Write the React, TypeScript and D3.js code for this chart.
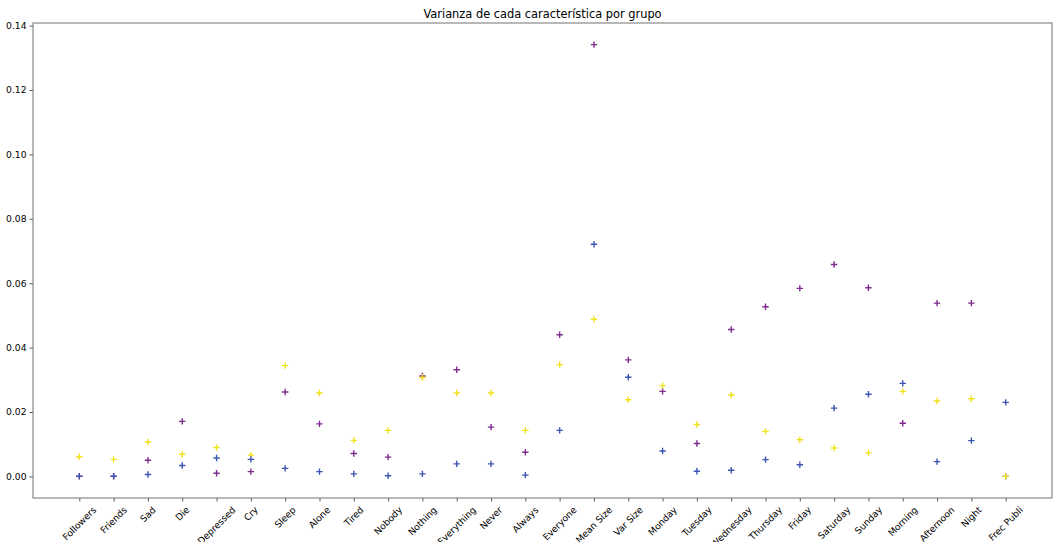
import React, { useEffect, useRef } from 'react';
import * as d3 from 'd3';

const categories = [
  'Followers', 'Friends', 'Sad', 'Die', 'Depressed', 'Cry', 'Sleep', 'Alone', 'Tired', 'Nobody',
  'Nothing', 'Everything', 'Never', 'Always', 'Everyone', 'Mean Size', 'Var Size', 'Monday', 'Tuesday',
  'Wednesday', 'Thursday', 'Friday', 'Saturday', 'Sunday', 'Morning', 'Afternoon', 'Night', 'Frec Publi',
];

// grupo morado
const purpleVals = [
  0.0000, 0.0000, 0.0050, 0.0171, 0.0010, 0.0015, 0.0262, 0.0163, 0.0071, 0.0060,
  0.0312, 0.0331, 0.0153, 0.0075, 0.0440, 0.1341, 0.0362, 0.0264, 0.0102,
  0.0456, 0.0527, 0.0584, 0.0658, 0.0586, 0.0165, 0.0538, 0.0538, 0.0000,
];
// grupo amarillo
const yellowVals = [
  0.0061, 0.0053, 0.0107, 0.0069, 0.0090, 0.0066, 0.0344, 0.0259, 0.0112, 0.0143,
  0.0307, 0.0259, 0.0259, 0.0143, 0.0347, 0.0488, 0.0238, 0.0282, 0.0161,
  0.0253, 0.0140, 0.0114, 0.0088, 0.0073, 0.0264, 0.0234, 0.0241, 0.0000,
];
// grupo azul
const blueVals = [
  0.0001, 0.0001, 0.0006, 0.0034, 0.0057, 0.0053, 0.0025, 0.0015, 0.0008, 0.0002,
  0.0008, 0.0039, 0.0039, 0.0004, 0.0143, 0.0721, 0.0308, 0.0079, 0.0016,
  0.0019, 0.0052, 0.0036, 0.0212, 0.0255, 0.0289, 0.0046, 0.0111, 0.0230,
];

const yTicks = [0, 0.02, 0.04, 0.06, 0.08, 0.1, 0.12, 0.14];

const W = 1056, H = 542;
const FONT = 'DejaVu Sans, sans-serif';

export default function App() {
  const ref = useRef<SVGSVGElement>(null);

  useEffect(() => {
    document.body.style.margin = '0';
    const svg = d3.select(ref.current);
    svg.selectAll('*').remove();

    const left = 33, right = 1052, top = 23, bottom = 498;
    const n = categories.length;
    const xm = (n - 1) * 0.05;
    const x = d3.scaleLinear().domain([-xm, n - 1 + xm]).range([left, right]);
    const all = purpleVals.concat(yellowVals, blueVals);
    const ymin = d3.min(all)!, ymax = d3.max(all)!;
    const ym = (ymax - ymin) * 0.05;
    const y = d3.scaleLinear().domain([ymin - ym, ymax + ym]).range([bottom, top]);

    // title
    svg.append('text')
      .attr('x', (left + right) / 2).attr('y', 17.5)
      .attr('text-anchor', 'middle')
      .style('font-family', FONT).style('font-size', '11.4px')
      .text('Varianza de cada característica por grupo');

    const fs = 9.2;

    // y axis
    const gy = svg.append('g').attr('transform', `translate(${left},0)`)
      .call(d3.axisLeft(y).tickValues(yTicks).tickSize(3.5).tickPadding(3).tickFormat(d3.format('.2f')));
    gy.select('.domain').remove();
    gy.selectAll('text').style('font-family', FONT).style('font-size', fs + 'px').attr('fill', '#000');
    gy.selectAll('line').attr('stroke', '#333').attr('stroke-width', 0.8);

    // x axis
    const gx = svg.append('g').attr('transform', `translate(0,${bottom})`)
      .call(d3.axisBottom(x).tickValues(d3.range(n)).tickSize(3.5).tickFormat(() => ''));
    gx.select('.domain').remove();
    gx.selectAll('line').attr('stroke', '#333').attr('stroke-width', 0.8);

    const ctx = document.createElement('canvas').getContext('2d')!;
    ctx.font = fs + 'px DejaVu Sans';
    svg.append('g').selectAll('text').data(categories).join('text')
      .attr('transform', (d, i) => {
        const w = ctx.measureText(d).width;
        const half = (w + fs * 1.15) * Math.SQRT1_2 / 2;
        return `translate(${x(i)},${bottom + 6.5 + half}) rotate(-45)`;
      })
      .attr('text-anchor', 'middle')
      .attr('dy', '0.35em')
      .style('font-family', FONT).style('font-size', fs + 'px')
      .text(d => d);

    // frame
    svg.append('rect')
      .attr('x', left).attr('y', top).attr('width', right - left).attr('height', bottom - top)
      .attr('fill', 'none').attr('stroke', '#7f7f7f').attr('stroke-width', 1.1);

    const plus = 'M-3.2,0H3.2M0,-3.2V3.2';
    const series: [number[], string][] = [
      [purpleVals, '#7e2c8e'],
      [yellowVals, '#f0e21c'],
      [blueVals, '#3b55b2'],
    ];
    series.forEach(([vals, color]) => {
      svg.append('g').selectAll('path').data(vals).join('path')
        .attr('d', plus)
        .attr('transform', (v, i) => `translate(${x(i)},${y(v)})`)
        .attr('stroke', color).attr('stroke-width', 1.4).attr('fill', 'none');
    });
  }, []);

  return <svg ref={ref} width={W} height={H} style={{ display: 'block', background: '#fff' }} />;
}
